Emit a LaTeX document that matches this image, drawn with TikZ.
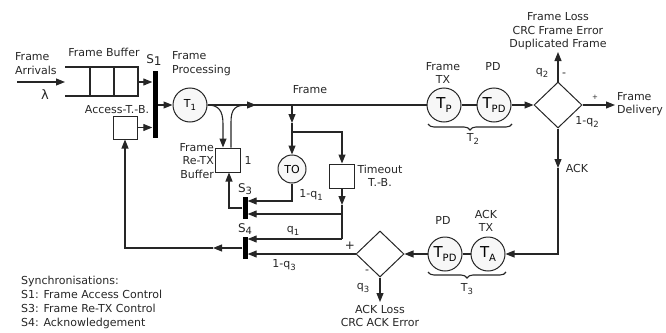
\documentclass[tikz,border=0pt]{standalone}
\usepackage{fontspec}
\setmainfont{DejaVu Sans}
\usetikzlibrary{arrows.meta,shapes.geometric,decorations.pathreplacing,calc}
\newcommand\sbs[1]{\raisebox{-0.45ex}{\fontsize{8.5}{8.5}\selectfont #1}}
\newcommand\bigT[1]{{\fontsize{15}{15}\selectfont T}\raisebox{-0.6ex}{\fontsize{10}{10}\selectfont #1}}
\begin{document}
\begin{tikzpicture}[x=1pt,y=-1pt,font=\fontsize{11}{13.5}\selectfont]
\tikzset{
 ln/.style={line width=1.1pt,draw=black!85},
 arr/.style={ln,-{Triangle[length=9pt,width=7pt]}},
 circ/.style={circle,draw=black!85,line width=1pt,fill=gray!6,minimum size=34pt,inner sep=0pt},
 box/.style={rectangle,draw=black!85,line width=1pt,minimum width=25pt,minimum height=24pt,inner sep=0pt},
 bar/.style={rectangle,fill=black,minimum width=5pt,inner sep=0pt},
 dia/.style={diamond,draw=black!85,line width=1pt,minimum width=48pt,minimum height=46pt,inner sep=0pt},
 lbl/.style={inner sep=0pt,align=center,text=black!85},
 brc/.style={ln,decorate,decoration={brace,mirror,amplitude=6pt}},
}
\useasboundingbox (0,0) rectangle (666,332);

% frame buffer (open queue)
\draw[ln] (65,67) -- (138,67) -- (138,96) -- (65,96);
\draw[ln] (90,67) -- (90,96) (114,67) -- (114,96);
\coordinate (bufin) at (65,82);
\coordinate (bufout) at (138,82);
\coordinate (arrstart) at (17,82);
\draw[arr] (arrstart) -- (bufin);
\node[lbl,anchor=west,align=left] (farr) at (15,63.5) {Frame\\Arrivals};
\node[lbl] (lam) at (45,95) {\fontsize{13}{13}\selectfont λ};
\node[lbl] (fbuf) at (104,52) {Frame Buffer};

% S1
\node[bar,minimum height=67pt] (s1) at (155,104.5) {};
\node[lbl] (s1l) at (154,60) {\fontsize{12}{12}\selectfont S\raisebox{-0.4ex}{1}};
\draw[arr] (bufout) -- (bufout -| s1.west);
\node[box,minimum width=24pt,minimum height=23pt] (acc) at (125,127.5) {};
\node[lbl] (accl) at (117,110) {Access-T.-B.};
\draw[arr] (acc.east) -- (acc.east -| s1.west);

% T1
\node[circ] (t1) at (190,105) {T\sbs{1}};
\draw[arr] (t1 -| s1.east) -- (t1.west);
\node[lbl,anchor=west,align=left] (fproc) at (172,63.5) {Frame\\Processing};

% main transmission line
\node[circ] (tp) at (444,105) {\bigT{P}};
\node[circ] (tpd) at (494,105) {\bigT{PD}};
\draw[ln] (t1.east) -- (tp.west);
\draw[ln] (tp.east) -- (tpd.west);
\node[lbl] (frl) at (310,90) {Frame};

% re-TX buffer
\node[box] (rtx) at (227.5,160) {};
\node[lbl,anchor=east,align=right] (rtxl) at (214,161) {Frame\\Re-TX\\Buffer};
\node[lbl] (one) at (248,160) {1};
\draw[arr] (t1.east) .. controls (218,105) and (223,110) .. (223,124) -- ($(rtx.north)+(-4.5,0)$);
\coordinate (merge) at (256,105);
\draw[arr] ($(rtx.north)+(3.5,0)$) -- (231,122) .. controls (231,108) and (236,105) .. (merge);

% timeout branch
\coordinate (fb) at (292,105);
\coordinate (fm) at (292,123);
\coordinate (br) at (292,132);
\node[circ,minimum size=28pt] (to) at (292,169) {TO};
\node[box] (tob) at (342,176) {};
\node[lbl] (tobl) at (380,176) {Timeout\\T.-B.};
\draw[arr] (fb) -- (fm);
\draw[arr] (fm) -- (to.north);
\draw[arr] (br) -| (tob.north);

% S3
\node[bar,minimum height=22pt] (s3) at (245,208) {};
\node[lbl] (s3l) at (245,189) {\fontsize{12}{12}\selectfont S\raisebox{-0.4ex}{\fontsize{10}{10}\selectfont 3}};
\coordinate (s3a) at (292,201);
\draw[arr] (to.south) -- (s3a) -- (s3a -| s3.east);
\node[lbl] (q1m) at (311,195) {1-q\sbs{1}};
\coordinate (tm) at (342,205);
\draw[arr] (tob.south) -- (tm);
\coordinate (s3b) at (342,214);
\draw[arr] (s3b) -- (s3b -| s3.east);
\draw[arr] (s3.west) -| ($(rtx.south)+(1.5,0)$);

% S4
\node[bar,minimum height=22pt] (s4) at (245,248) {};
\node[lbl] (s4l) at (245,229) {\fontsize{12}{12}\selectfont S\raisebox{-0.4ex}{\fontsize{10}{10}\selectfont 4}};
\coordinate (q1c) at (342,239);
\draw[ln] (tm) -- (q1c);
\draw[arr] (q1c) -- (q1c -| s4.east);
\node[lbl] (q1l) at (293,231) {q\sbs{1}};
\coordinate (am) at (213,248);
\draw[arr] (s4.west) -- (am);
\draw[arr] (am) -| (acc.south);

% ACK diamond
\node[dia] (d2) at (380,254) {};
\draw[arr] (d2.west) -- (d2.west -| s4.east);
\node[lbl] (q3m) at (284,265) {1-q\sbs{3}};
\node[lbl] (plus2) at (350,246) {\large +};
\node[lbl] (minus2) at (367,272) {-};
\node[lbl] (q3l) at (363,288) {q\sbs{3}};
\coordinate (ackloss) at (380,302);
\draw[arr] (d2.south) -- (ackloss);
\node[lbl,anchor=north] (ackll) at (380,305) {ACK Loss\\CRC ACK Error};

% ACK path
\node[circ] (tpd2) at (445,254) {\bigT{PD}};
\node[circ] (ta) at (488,254) {\bigT{A}};
\draw[arr] (tpd2.west) -- (d2.east);
\draw[ln] (tpd2.east) -- (ta.west);
\node[lbl] (pd2) at (443,220) {PD};
\node[lbl] (acktx) at (486,221) {ACK\\TX};
\draw[brc] (428,272) -- (506,272);
\node[lbl] (t3) at (467,289) {T\sbs{3}};

% frame diamond
\node[dia] (d1) at (558,105) {};
\draw[arr] (tpd.east) -- (d1.west);
\coordinate (floss) at (558,52);
\draw[arr] (d1.north) -- (floss);
\node[lbl,anchor=south] (flossl) at (558,50) {Frame Loss\\CRC Frame Error\\Duplicated Frame};
\coordinate (fdel) at (615,105);
\draw[arr] (d1.east) -- (fdel);
\node[lbl,anchor=west,align=left] (fdell) at (617,104) {Frame\\Delivery};
\node[lbl] (plus1) at (595,97) {\scriptsize +};
\node[lbl] (minus1) at (564,75) {-};
\node[lbl] (q2l) at (542,73) {q\sbs{2}};
\node[lbl] (q2m) at (587,122) {1-q\sbs{2}};
\coordinate (ackm) at (558,168);
\draw[arr] (d1.south) -- (ackm);
\draw[arr] (ackm) |- (ta.east);
\node[lbl] (ackl) at (577,168) {ACK};
\node[lbl] (ftx) at (443,73) {Frame\\TX};
\node[lbl] (pd1) at (493,66) {PD};
\draw[brc] (428,124) -- (512,124);
\node[lbl] (t2) at (473,139) {T\sbs{2}};

% legend
\node[lbl,anchor=west,align=left,font=\fontsize{11}{13.7}\selectfont] (legend) at (21,302.5)
 {Synchronisations:\\S1: Frame Access Control\\S3: Frame Re-TX Control\\S4: Acknowledgement};
\end{tikzpicture}
\end{document}
